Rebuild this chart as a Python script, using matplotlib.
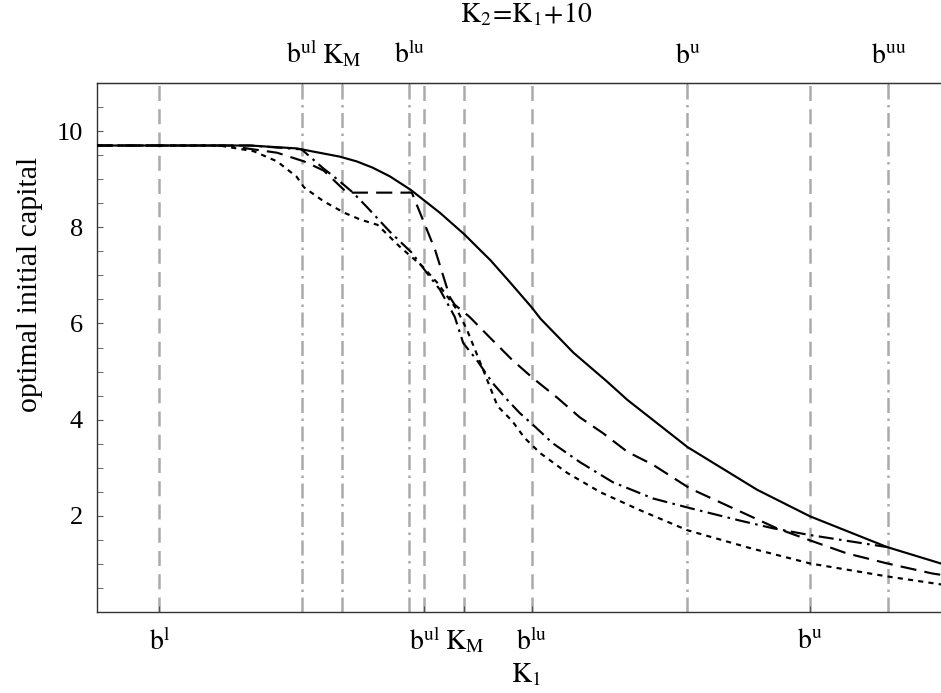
import matplotlib
matplotlib.use('Agg')
import matplotlib.pyplot as plt
from matplotlib.ticker import MultipleLocator

# --- thresholds (same levels on K1 axis below and K2 axis above) ---
b_l, b_ul, K_M, b_lu, b_u, b_uu = 5.1, 26.7, 30.0, 35.5, 58.2, 74.6
SHIFT = 10  # K2 = K1 + 10

bottom_pos = [b_l, b_ul, K_M, b_lu, b_u]
bottom_labels = [r'$\mathrm{b}^{\mathrm{l}}$', r'$\mathrm{b}^{\mathrm{ul}}$', r'$\mathrm{K}_{\mathrm{M}}$',
                 r'$\mathrm{b}^{\mathrm{lu}}$', r'$\mathrm{b}^{\mathrm{u}}$']
top_pos = [b_ul, K_M, b_lu, b_u, b_uu]
top_labels = [r'$\mathrm{b}^{\mathrm{ul}}$', r'$\mathrm{K}_{\mathrm{M}}$', r'$\mathrm{b}^{\mathrm{lu}}$',
              r'$\mathrm{b}^{\mathrm{u}}$', r'$\mathrm{b}^{\mathrm{uu}}$']

# --- curves (x = K1) ---
solid_x = [0, 12.5, 16.3, 19.8, 21.2, 22.5, 23.9, 25.6, 26.9, 28.0, 28.8, 30.0, 31.3, 32.1, 33.7, 35.5,
           36.2, 38.9, 41.6, 43.3, 48.2, 53.9, 58.2, 64.5, 69.0]
solid_y = [9.70, 9.70, 9.64, 9.47, 9.37, 9.24, 9.06, 8.78, 8.52, 8.30, 8.12, 7.85, 7.52, 7.32, 6.86, 6.33,
           6.10, 5.39, 4.80, 4.41, 3.43, 2.54, 1.99, 1.35, 1.00]

dash_x = [0, 10.9, 12.2, 14.7, 16.9, 18.5, 20.4, 25.7, 26.5, 27.6, 28.8, 29.2, 30.4, 32.1, 33.9, 35.6,
          37.6, 39.4, 41.3, 43.3, 45.4, 47.6, 48.4, 51.9, 55.5, 58.2, 61.2, 64.5, 68.2, 69.0]
dash_y = [9.70, 9.70, 9.64, 9.55, 9.37, 9.18, 8.72, 8.72, 8.22, 7.53, 6.55, 6.39, 6.14, 5.70, 5.24, 4.86,
          4.45, 4.05, 3.72, 3.33, 3.06, 2.70, 2.57, 2.16, 1.74, 1.49, 1.22, 1.01, 0.80, 0.77]

dashdot_x = [0, 12.5, 16.7, 18.4, 19.6, 20.9, 22.0, 23.9, 25.7, 26.9, 28.0, 29.2, 29.9, 31.0, 32.3, 33.5,
             34.5, 35.6, 37.2, 39.4, 42.1, 45.4, 48.4, 52.5, 55.2, 58.2, 64.5]
dashdot_y = [9.70, 9.70, 9.62, 9.24, 9.00, 8.72, 8.43, 7.91, 7.47, 7.06, 6.70, 6.14, 5.59, 5.24, 4.76, 4.41,
             4.14, 3.89, 3.51, 3.12, 2.70, 2.36, 2.16, 1.90, 1.74, 1.60, 1.35]

dot_x = [0, 10.0, 12.8, 14.7, 16.3, 16.9, 18.5, 20.2, 21.5, 22.9, 24.7, 26.6, 27.8, 29.4, 30.2, 31.5,
         32.7, 33.9, 34.9, 36.2, 38.4, 41.1, 44.3, 48.2, 53.3, 58.2, 64.5, 69.0]
dot_y = [9.70, 9.70, 9.58, 9.37, 9.05, 8.83, 8.54, 8.30, 8.16, 8.05, 7.60, 7.18, 6.84, 6.28, 5.87, 5.05,
         4.28, 3.97, 3.62, 3.30, 2.89, 2.49, 2.12, 1.70, 1.33, 1.01, 0.74, 0.57]

plt.rcParams['font.family'] = ['Liberation Serif', 'DejaVu Serif']
plt.rcParams['mathtext.fontset'] = 'stix'

fig = plt.figure(figsize=(9.41, 6.93), dpi=100)
ax = fig.add_axes([97 / 941, 1 - 612 / 693, 857.5 / 941, 529 / 693])

gray = '#aaaaaa'
for x in bottom_pos:
    ax.axvline(x, color=gray, lw=1.8, dashes=(6, 3.3), zorder=1)
for x in top_pos:
    ax.axvline(x - SHIFT, color=gray, lw=1.8, dashes=(6, 2.2, 1.0, 2.2), zorder=1)

lw = 1.55
ax.plot(solid_x, solid_y, color='black', lw=lw, zorder=3)
ax.plot(dash_x, dash_y, color='black', lw=lw, dashes=(7.5, 3.8), zorder=3)
ax.plot(dashdot_x, dashdot_y, color='black', lw=lw, dashes=(7, 2.5, 1.2, 2.5), zorder=3)
ax.plot(dot_x, dot_y, color='black', lw=lw, dashes=(2.4, 2.4), zorder=3)

ax.set_xlim(0, 70)
ax.set_ylim(0, 11)

ax.set_xticks(bottom_pos, bottom_labels)
ax.set_yticks([2, 4, 6, 8, 10])
ax.yaxis.set_minor_locator(MultipleLocator(0.5))
ax.tick_params(axis='x', direction='in', length=4, labelsize=20, pad=12, color='#555555')
ax.tick_params(axis='y', which='both', direction='in', length=4, labelsize=19, pad=10, color='#555555')

sec = ax.secondary_xaxis('top', functions=(lambda k1: k1 + SHIFT, lambda k2: k2 - SHIFT))
sec.set_xticks(top_pos, top_labels)
sec.tick_params(direction='in', length=4, labelsize=20, pad=10, color='#555555')
sec.set_xlabel(r'$\mathrm{K}_2\!=\!\mathrm{K}_1\!+\!10$', fontsize=20, labelpad=14)

ax.set_xlabel(r'$\mathrm{K}_1$', fontsize=20, labelpad=4)
ax.set_ylabel('optimal initial capital', fontsize=21.5)
ax.yaxis.set_label_coords(-0.063, 0.62)

for side in ['left', 'bottom', 'top']:
    ax.spines[side].set_color('#333333')
    ax.spines[side].set_linewidth(1.0)
ax.spines['right'].set_visible(False)
sec.spines['top'].set_color('#333333')

fig.savefig('out.png', dpi=100)
